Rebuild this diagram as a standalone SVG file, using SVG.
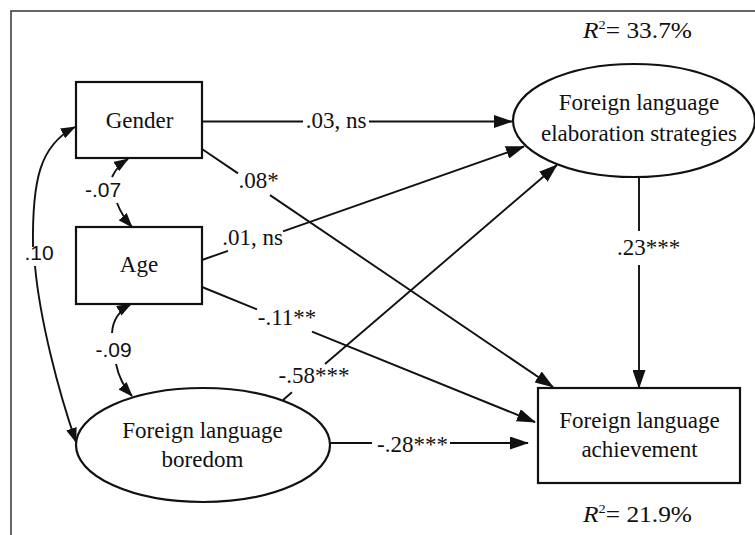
<svg xmlns="http://www.w3.org/2000/svg" width="755" height="535" viewBox="0 0 755 535">
<style>
.node{fill:#fff;stroke:#111;stroke-width:2.2}
.lbl{font-family:"Liberation Serif","Times New Roman","DejaVu Serif",serif;font-size:23px;fill:#111;text-anchor:middle}
.cor{font-family:"Liberation Sans",Arial,sans-serif;font-size:21px;fill:#111;text-anchor:middle}
.ln{fill:none;stroke:#111;stroke-width:1.9}
.arr{marker-end:url(#ah)}
.sarr{marker-end:url(#sh)}
.r2{font-family:"Liberation Serif","Times New Roman","DejaVu Serif",serif;font-size:23px;fill:#111}
</style>
<defs>
<marker id="ah" markerUnits="userSpaceOnUse" viewBox="0 0 19 13" markerWidth="19" markerHeight="13" refX="18" refY="6.5" orient="auto">
<path d="M0,0 L19,6.5 L0,13 Z" fill="#111"/>
</marker>
<marker id="sh" markerUnits="userSpaceOnUse" viewBox="0 0 15 11" markerWidth="15" markerHeight="11" refX="14" refY="5.5" orient="auto">
<path d="M0,0 L15,5.5 L0,11 Z" fill="#111"/>
</marker>
</defs>
<rect width="755" height="535" fill="#fff"/>
<path d="M11,535 L11,11 L755,11" fill="none" stroke="#333" stroke-width="1.5"/>

<g id="gender">
<rect class="node" x="76" y="82" width="126" height="76"/>
<text class="lbl" x="139.5" y="128">Gender</text>
</g>
<g id="age">
<rect class="node" x="76" y="227" width="126" height="77"/>
<text class="lbl" x="139" y="272">Age</text>
</g>
<g id="boredom">
<ellipse class="node" cx="203" cy="445" rx="127" ry="57"/>
<text class="lbl" x="202.5" y="438">Foreign language</text>
<text class="lbl" x="202.5" y="467">boredom</text>
</g>
<g id="elaboration">
<ellipse class="node" cx="634" cy="120.5" rx="121" ry="56.5"/>
<text class="lbl" x="639" y="110">Foreign language</text>
<text class="lbl" x="639" y="141">elaboration strategies</text>
</g>
<g id="achievement">
<rect class="node" x="538" y="388" width="202" height="95"/>
<text class="lbl" x="639.5" y="428">Foreign language</text>
<text class="lbl" x="639.5" y="457">achievement</text>
</g>

<g id="r2">
<text class="r2" x="583" y="38" textLength="109" lengthAdjust="spacingAndGlyphs"><tspan font-style="italic">R</tspan><tspan font-size="13" dy="-9">2</tspan><tspan dy="9">= 33.7%</tspan></text>
<text class="r2" x="583" y="522" textLength="109" lengthAdjust="spacingAndGlyphs"><tspan font-style="italic">R</tspan><tspan font-size="13" dy="-9">2</tspan><tspan dy="9">= 21.9%</tspan></text>
</g>

<g id="connectors">
<path class="ln" d="M202,121.5 L303,121.5"/>
<path class="ln arr" d="M369,121.5 L512,121.5"/>
<text class="lbl" x="336" y="128">.03, ns</text>
<path class="ln" d="M202,149 L238,173.4"/>
<path class="ln arr" d="M270,195.1 L553,387"/>
<text class="lbl" x="258.5" y="188">.08*</text>
<path class="ln" d="M202,260 L228,250.8"/>
<path class="ln arr" d="M283,231.4 L524,146.5"/>
<text class="lbl" x="252.5" y="245">.01, ns</text>
<path class="ln" d="M202,287 L257,309.4"/>
<path class="ln arr" d="M312,331.7 L535,422"/>
<text class="lbl" x="287" y="325">-.11**</text>
<path class="ln" d="M283,400 L292,392.3"/>
<path class="ln arr" d="M325,364 L557,165"/>
<text class="lbl" x="314" y="383">-.58***</text>
<path class="ln" d="M330,443 L372,443"/>
<path class="ln arr" d="M450,443 L528,443"/>
<text class="lbl" x="412.5" y="452">-.28***</text>
<path class="ln" d="M639,177 L639,231"/>
<path class="ln arr" d="M639,265 L639,388"/>
<text class="lbl" x="648.5" y="255">.23***</text>
<path class="ln sarr" d="M112,177 Q117,166 128,159"/>
<path class="ln sarr" d="M117,203 Q122,216 132,227"/>
<text class="cor" x="103" y="197">-.07</text>
<path class="ln sarr" d="M112,333 Q113,314 131,304"/>
<path class="ln sarr" d="M116,364 Q120,383 132,396"/>
<text class="cor" x="113.5" y="357">-.09</text>
<path class="ln sarr" d="M33,247 C32,180 40,145 75,127"/>
<path class="ln sarr" d="M35,266 C40,320 58,390 76,442"/>
<text class="cor" x="39" y="260">.10</text>
</g>
</svg>
